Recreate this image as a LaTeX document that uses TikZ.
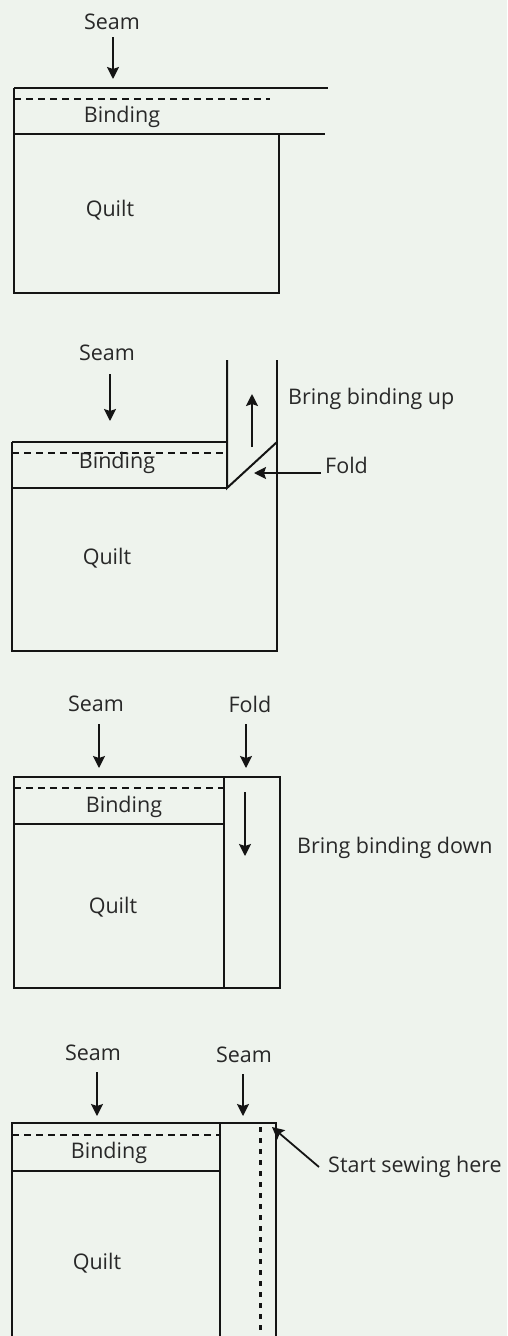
\documentclass[tikz,border=0pt]{standalone}
\usepackage{fontspec}
\setmainfont{Open Sans}
\usetikzlibrary{arrows.meta}
\definecolor{paper}{RGB}{238,243,237}
\definecolor{ink}{RGB}{20,20,20}
\definecolor{txt}{RGB}{40,40,40}
\begin{document}
\begin{tikzpicture}[x=1pt,y=-1pt,
  edge/.style={draw=ink,line width=2pt},
  seamline/.style={draw=ink,line width=1.6pt,dash pattern=on 7pt off 5pt},
  stitch/.style={draw=ink,line width=3pt,dash pattern=on 5pt off 6pt},
  arr/.style={draw=ink,line width=1.8pt,-{Stealth[length=12pt,width=12pt,inset=2pt]}},
  lbl/.style={inner sep=0pt,text=txt,font=\fontsize{21.5}{25}\selectfont}
]
\fill[paper] (0,0) rectangle (507,1336);
\useasboundingbox (0,0) rectangle (507,1336);

% ---------- Panel 1 ----------
\node[lbl] (seam1) at (112,22) {Seam};
\coordinate (s1tip) at (113,79);
\draw[arr,shorten <=7pt] (s1tip |- seam1.south) -- (s1tip);
\draw[edge] (14,88) -- (328,88);
\draw[seamline] (14,99) -- (270,99);
\draw[edge] (14,134) -- (325,134);
\draw[edge] (14,88) -- (14,293) -- (279,293) -- (279,134);
\node[lbl] (bind1) at (122,117) {Binding};
\node[lbl] (quilt1) at (110,210) {Quilt};

% ---------- Panel 2 ----------
\node[lbl] (seam2) at (107,353) {Seam};
\coordinate (s2tip) at (110,421);
\draw[arr,shorten <=13pt] (s2tip |- seam2.south) -- (s2tip);
\draw[edge] (12,442) -- (227,442);
\draw[seamline] (12,453) -- (227,453);
\draw[edge] (12,488) -- (227,488);
\draw[edge] (227,360) -- (227,488) -- (277,442);
\draw[edge] (277,360) -- (277,651) -- (12,651) -- (12,442);
\coordinate (up2a) at (252,447);
\coordinate (up2b) at (252,394);
\draw[arr] (up2a) -- (up2b);
\node[lbl,anchor=west] (bringup) at (288,399) {Bring binding up};
\node[lbl,anchor=base west] (fold2) at (325,473) {Fold};
\coordinate (fold2tip) at (254,473);
\draw[arr] (fold2.base west) ++(-4,0) -- (fold2tip);
\node[lbl] (bind2) at (117,463) {Binding};
\node[lbl] (quilt2) at (107,558) {Quilt};

% ---------- Panel 3 ----------
\node[lbl] (seam3) at (96,704) {Seam};
\coordinate (s3tip) at (99,768);
\draw[arr,shorten <=12pt] (s3tip |- seam3.south) -- (s3tip);
\node[lbl] (fold3) at (250,704) {Fold};
\coordinate (f3tip) at (246,768);
\draw[arr,shorten <=12pt] (f3tip |- fold3.south) -- (f3tip);
\draw[edge] (14,777) rectangle (280,988);
\draw[seamline] (14,788) -- (223,788);
\draw[edge] (14,824) -- (224,824);
\draw[edge] (224,777) -- (224,988);
\coordinate (dn3a) at (245,792);
\coordinate (dn3b) at (245,856);
\draw[arr] (dn3a) -- (dn3b);
\node[lbl,anchor=west] (bringdown) at (297,848) {Bring binding down};
\node[lbl] (bind3) at (124,807) {Binding};
\node[lbl] (quilt3) at (113,907) {Quilt};

% ---------- Panel 4 ----------
\node[lbl] (seam4a) at (93,1053) {Seam};
\coordinate (s4atip) at (97,1116);
\draw[arr,shorten <=11pt] (s4atip |- seam4a.south) -- (s4atip);
\node[lbl] (seam4b) at (244,1055) {Seam};
\coordinate (s4btip) at (243,1116);
\draw[arr,shorten <=11pt] (s4btip |- seam4b.south) -- (s4btip);
\draw[edge] (12,1340) -- (12,1123) -- (276,1123) -- (276,1340);
\draw[edge] (220,1123) -- (220,1340);
\draw[seamline] (12,1135) -- (220,1135);
\draw[edge] (12,1171) -- (220,1171);
\draw[stitch] (260,1127) -- (260,1340);
\node[lbl,anchor=west] (start4) at (328,1167) {Start sewing here};
\coordinate (start4tip) at (272,1127);
\draw[arr] (start4.west) ++(-9,0) -- (start4tip);
\node[lbl] (bind4) at (109,1153) {Binding};
\node[lbl] (quilt4) at (97,1263) {Quilt};
\end{tikzpicture}
\end{document}
